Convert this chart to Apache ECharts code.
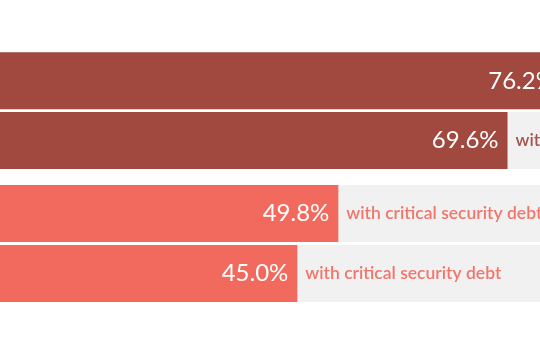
<!DOCTYPE html>
<html>
<head>
<meta charset="utf-8">
<style>html,body{margin:0;padding:0;background:#fff;}#chart{width:540px;height:360px;}</style>
<script src="https://cdn.jsdelivr.net/npm/echarts@6/dist/echarts.min.js"></script>
</head>
<body>
<div id="chart"></div>
<script>
// Data
const topCategories = ['Row 1', 'Row 2'];
const topValues = [76.2, 69.6];
const bottomCategories = ['Row 3', 'Row 4'];
const bottomValues = [49.8, 45.0];
const suffixText = 'with critical security debt';

const darkColor = '#a1483f';
const lightColor = '#f26a5e';
const trackColor = '#f1f1f1';

function barSeries(idx, values, color, textColor) {
  return [{
    type: 'bar',
    xAxisIndex: idx, yAxisIndex: idx,
    data: values,
    barWidth: 57,
    itemStyle: { color: color },
    showBackground: true,
    backgroundStyle: { color: trackColor },
    clip: false,
    label: {
      show: true, position: 'insideRight', distance: 9,
      color: '#ffffff', fontFamily: 'Lato', fontSize: 24,
      formatter: p => p.value.toFixed(1) + '%'
    },
    animation: false
  }, {
    type: 'bar',
    xAxisIndex: idx, yAxisIndex: idx,
    data: values,
    barWidth: 57,
    barGap: '-100%',
    clip: false,
    itemStyle: { color: 'rgba(0,0,0,0)' },
    label: {
      show: true, position: 'right', distance: 8,
      color: textColor, fontFamily: 'Lato', fontSize: 17.5, fontWeight: 600,
      formatter: () => suffixText
    },
    silent: true,
    animation: false
  }];
}

const chart = echarts.init(document.getElementById('chart'), null, { renderer: 'canvas' });
const xAx = i => ({ type: 'value', gridIndex: i, min: 0, max: 100, show: false });
chart.setOption({
  animation: false,
  grid: [
    { left: -87.2, width: 854.5, top: 50.9, height: 119.6, outerBoundsMode: 'none', containLabel: false },
    { left: -87.2, width: 854.5, top: 183.4, height: 120, outerBoundsMode: 'none', containLabel: false }
  ],
  xAxis: [xAx(0), xAx(1)],
  yAxis: [
    { type: 'category', gridIndex: 0, data: topCategories, inverse: true, show: false },
    { type: 'category', gridIndex: 1, data: bottomCategories, inverse: true, show: false }
  ],
  series: [
    ...barSeries(0, topValues, darkColor, '#a8544c'),
    ...barSeries(1, bottomValues, lightColor, '#f0766b')
  ]
});
</script>
</body>
</html>
